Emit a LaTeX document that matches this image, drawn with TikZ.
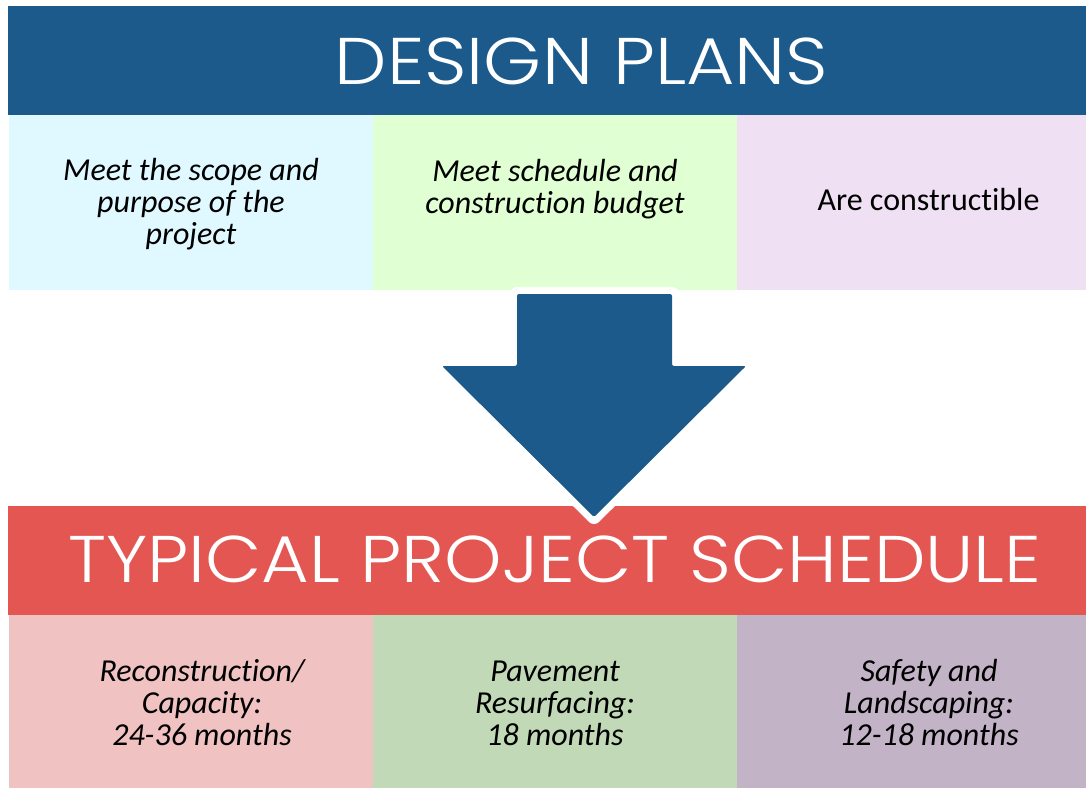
\documentclass[tikz,border=0pt]{standalone}
\usepackage{fontspec}
\usepackage{graphicx}
\setmainfont{Carlito}[Ligatures=NoCommon]
\newfontfamily\titlefont{Poppins}[UprightFont={* Light}]
\definecolor{bannerblue}{RGB}{28,90,140}
\definecolor{bannerred}{RGB}{227,86,82}
\definecolor{cyancell}{RGB}{224,248,255}
\definecolor{greencell}{RGB}{224,255,210}
\definecolor{lilaccell}{RGB}{240,224,244}
\definecolor{pinkcell}{RGB}{240,194,194}
\definecolor{sagecell}{RGB}{194,217,183}
\definecolor{mauvecell}{RGB}{194,179,198}
\newcommand{\widetitle}[2][1.125]{\scalebox{#1}[1.0]{#2}}
\tikzset{
  box/.style={anchor=north west, inner sep=0pt, outer sep=0pt, draw=none},
  banner/.style={box, minimum width=1078pt, minimum height=109pt},
  titletext/.style={anchor=base, inner sep=0pt, text=white, font=\titlefont\fontsize{66}{70}\selectfont},
  bodytext/.style={anchor=north, inner sep=0pt, align=center, font=\fontsize{32}{32}\selectfont\itshape},
  plaintext/.style={anchor=north, inner sep=0pt, align=center, font=\fontsize{32}{32}\selectfont},
}
\begin{document}
\begin{tikzpicture}[x=1pt,y=-1pt]
\useasboundingbox (0,0) rectangle (1086,788);
\fill[white] (0,0) rectangle (1086,788);
% top banner and cells
\node[banner, fill=bannerblue] (topbanner) at (8,6) {};
\node[box, fill=cyancell, minimum width=364pt, minimum height=175pt] (c1) at (9,115) {};
\node[box, fill=greencell, minimum width=364pt, minimum height=175pt] (c2) at (373,115) {};
\node[box, fill=lilaccell, minimum width=349pt, minimum height=175pt] (c3) at (737,115) {};
% bottom banner and cells
\node[banner, fill=bannerred] (botbanner) at (8,506) {};
\node[box, fill=pinkcell, minimum width=364pt, minimum height=173pt] (d1) at (9,615) {};
\node[box, fill=sagecell, minimum width=364pt, minimum height=173pt] (d2) at (373,615) {};
\node[box, fill=mauvecell, minimum width=349pt, minimum height=173pt] (d3) at (737,615) {};
% titles
\node[titletext] (title1) at (581.5,84) {\widetitle{DESIGN PLANS}};
\node[titletext] (title2) at (555,582) {\widetitle[1.107]{TYPICAL PROJECT SCHEDULE}};
% top texts
\node[bodytext] (t1) at (191,157.6) {\strut Meet the scope and\\purpose of the\\project};
\node[bodytext] (t2) at (555,158.6) {\strut Meet schedule and\\construction budget};
\node[plaintext] (t3) at (928.5,188.3) {\strut Are constructible};
% bottom texts
\node[bodytext] (b1) at (202,658.6) {\strut Reconstruction/\\Capacity:\\24-36 months};
\node[bodytext] (b2) at (555,658.6) {\strut Pavement\\Resurfacing:\\18 months};
\node[bodytext] (b3) at (929,658.6) {\strut Safety and\\Landscaping:\\12-18 months};
% arrow
\coordinate (a1) at (517,294);
\coordinate (a2) at (672,294);
\coordinate (a3) at (672,366);
\coordinate (a4) at (746,366);
\coordinate (a5) at (594,517);
\coordinate (a6) at (442,366);
\coordinate (a7) at (517,366);
\draw[white, line width=14pt, line join=round] (a1) -- (a2) -- (a3) -- (a4) -- (a5) -- (a6) -- (a7) -- cycle;
\fill[bannerblue, rounded corners=2pt] (a1) -- (a2) -- (a3) -- (a4) -- (a5) -- (a6) -- (a7) -- cycle;
\end{tikzpicture}
\end{document}
